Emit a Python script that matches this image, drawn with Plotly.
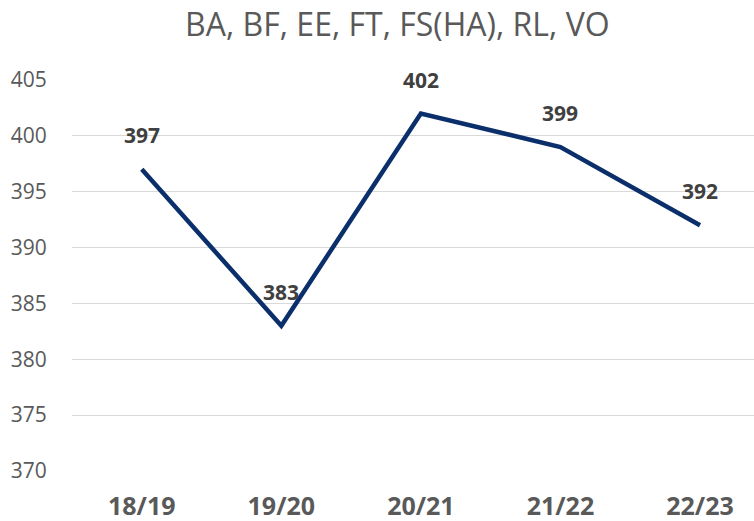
import plotly.graph_objects as go

categories = ["18/19", "19/20", "20/21", "21/22", "22/23"]
values = [397, 383, 402, 399, 392]
y_ticks = [370, 375, 380, 385, 390, 395, 400, 405]
title_text = "BA, BF, EE, FT, FS(HA), RL, VO"

line_color = "#0b2f6b"
text_gray = "#595959"
label_gray = "#404040"
font_family = "Open Sans, Noto Sans, sans-serif"

fig = go.Figure()
fig.add_trace(go.Scatter(
    x=categories, y=values, mode="lines",
    line=dict(color=line_color, width=4.5),
    hoverinfo="skip", showlegend=False,
))

for c, v in zip(categories, values):
    fig.add_annotation(
        x=c, y=v, text=f"<b>{v}</b>", showarrow=False,
        yshift=34, font=dict(family=font_family, size=21, color=label_gray),
    )

fig.update_layout(
    width=754, height=521,
    margin=dict(l=72, r=0, t=80, b=50),
    paper_bgcolor="white", plot_bgcolor="white",
    title=dict(
        text=title_text, x=0.527, xanchor="center", y=0.952, yanchor="middle",
        font=dict(family=font_family, size=32, color=text_gray),
    ),
    xaxis=dict(
        type="category", range=[-0.5, 4.387], automargin=False,
        showgrid=False, zeroline=False, showline=False,
        tickfont=dict(family=font_family, size=25, color=text_gray, weight="bold"),
        ticks="outside", ticklen=13, tickcolor="rgba(0,0,0,0)",
    ),
    yaxis=dict(
        range=[370, 405], tickvals=y_ticks, automargin=False,
        showgrid=True, gridcolor="#d9d9d9", gridwidth=1.3,
        zeroline=False, showline=False,
        tickfont=dict(family=font_family, size=21, color=text_gray),
        ticks="outside", ticklen=20, tickcolor="rgba(0,0,0,0)",
    ),
)

fig.write_html("out.html", config={"displayModeBar": False},
               post_script="document.body.style.margin='0';")
